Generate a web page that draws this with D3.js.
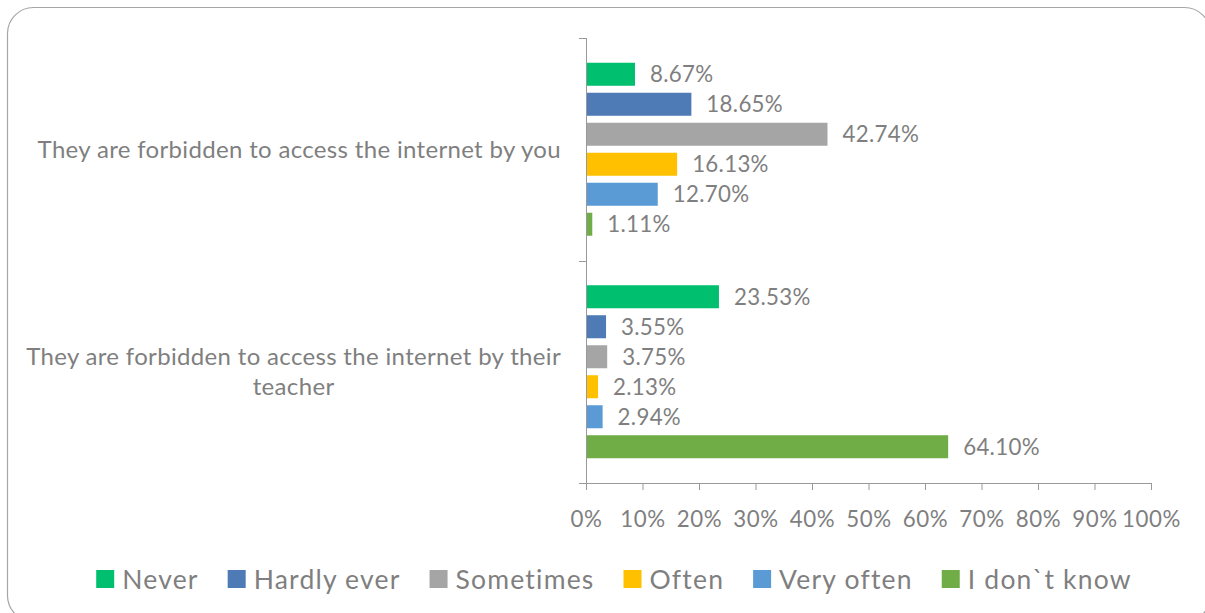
<!DOCTYPE html>
<html>
<head>
<meta charset="utf-8">
<script src="https://cdn.jsdelivr.net/npm/d3@7"></script>
<style>
  html, body { margin: 0; padding: 0; background: #fff; }
  svg { display: block; }
  text { font-family: Lato, "Open Sans", sans-serif; fill: #7f7f7f; }
</style>
</head>
<body>
<svg id="chart" width="1205" height="613"></svg>
<script>
// Survey categories (one band each) and the answer series drawn inside every band
const categories = [
  "They are forbidden to access the internet by you",
  "They are forbidden to access the internet by their teacher"
];
const seriesNames = ["Never", "Hardly ever", "Sometimes", "Often", "Very often", "I don`t know"];
const seriesColors = ["#00bf6f", "#4e7ab5", "#a5a5a5", "#ffc000", "#5b9bd5", "#70ad47"];

// Percentages per series, one value per category
const never      = [8.67, 23.53];
const hardlyEver = [18.65, 3.55];
const sometimes  = [42.74, 3.75];
const often      = [16.13, 2.13];
const veryOften  = [12.70, 2.94];
const dontKnow   = [1.11, 64.10];

const xTicks = [0, 10, 20, 30, 40, 50, 60, 70, 80, 90, 100];

const seriesValues = [never, hardlyEver, sometimes, often, veryOften, dontKnow];

const svg = d3.select("#chart");

// rounded frame around the chart
svg.append("rect")
  .attr("x", 7.5).attr("y", 7.5)
  .attr("width", 1203).attr("height", 614)
  .attr("rx", 26).attr("ry", 26)
  .attr("fill", "#fff")
  .attr("stroke", "#a6a6a6")
  .attr("stroke-width", 1.2);

const plot = { left: 586, right: 1151, top: 38, bottom: 483 };

const x = d3.scaleLinear().domain([0, 100]).range([plot.left, plot.right]);
const y0 = d3.scaleBand().domain(categories).range([plot.top, plot.bottom]).padding(0);
const y1 = d3.scaleBand().domain(seriesNames).range([0, y0.bandwidth()])
  .paddingInner(0.233).paddingOuter(0.825);
const color = d3.scaleOrdinal().domain(seriesNames).range(seriesColors);

const rows = [];
categories.forEach((c, ci) => {
  seriesNames.forEach((s, si) => {
    rows.push({ category: c, series: s, value: seriesValues[si][ci] });
  });
});

// bars
svg.append("g").selectAll("rect")
  .data(rows)
  .join("rect")
  .attr("x", x(0))
  .attr("y", d => y0(d.category) + y1(d.series))
  .attr("width", d => x(d.value) - x(0))
  .attr("height", y1.bandwidth())
  .attr("fill", d => color(d.series));

// value labels
svg.append("g").selectAll("text")
  .data(rows)
  .join("text")
  .attr("x", d => x(d.value) + 15)
  .attr("y", d => y0(d.category) + y1(d.series) + y1.bandwidth() / 2)
  .attr("dy", "0.36em")
  .style("font-size", "22.3px")
  .style("letter-spacing", "0.3px")
  .text(d => d.value.toFixed(2) + "%");

const axisColor = "#999";

// x axis
const xAxis = svg.append("g")
  .attr("transform", `translate(0,${plot.bottom})`)
  .call(d3.axisBottom(x).tickValues(xTicks).tickSize(7).tickPadding(21).tickFormat(d => d + "%"));
xAxis.select(".domain").attr("stroke", axisColor).attr("d", `M${plot.left},0.5H${plot.right}`);
xAxis.selectAll(".tick line").attr("stroke", axisColor);
xAxis.selectAll(".tick text")
  .style("font-size", "22.3px")
  .style("letter-spacing", "0.6px")
  .style("font-family", "Lato, sans-serif")
  .attr("fill", "#7f7f7f");

// y axis: line plus band boundary ticks
const yAxis = svg.append("g");
yAxis.append("line")
  .attr("x1", plot.left + 0.5).attr("x2", plot.left + 0.5)
  .attr("y1", plot.top).attr("y2", plot.bottom)
  .attr("stroke", axisColor);
const bounds = categories.map(c => y0(c)).concat([plot.bottom]);
yAxis.selectAll("line.tk")
  .data(bounds)
  .join("line")
  .attr("class", "tk")
  .attr("x1", plot.left - 7).attr("x2", plot.left)
  .attr("y1", d => Math.round(d) + 0.5).attr("y2", d => Math.round(d) + 0.5)
  .attr("stroke", axisColor);

// category labels, wrapped to the label area and right-aligned as a block
const labelRight = 561, labelMaxWidth = 550, lineHeight = 30;
const catFont = "24px", catSpacing = "0.33px";
const catG = svg.append("g");
categories.forEach(c => {
  const t = catG.append("text").style("font-size", catFont).style("letter-spacing", catSpacing);
  const probe = catG.append("text").style("font-size", catFont).style("letter-spacing", catSpacing);
  const words = c.split(" ");
  const lines = [];
  let line = [];
  words.forEach(w => {
    const test = line.concat([w]).join(" ");
    probe.text(test);
    if (probe.node().getComputedTextLength() > labelMaxWidth && line.length) {
      lines.push(line.join(" "));
      line = [w];
    } else {
      line.push(w);
    }
  });
  lines.push(line.join(" "));
  let maxW = 0;
  lines.forEach(l => { probe.text(l); maxW = Math.max(maxW, probe.node().getComputedTextLength()); });
  probe.remove();
  const cx = labelRight - maxW / 2;
  const cy = y0(c) + y0.bandwidth() / 2;
  const firstY = cy - (lines.length - 1) * lineHeight / 2;
  t.attr("text-anchor", "middle");
  lines.forEach((l, i) => {
    t.append("tspan")
      .attr("x", cx)
      .attr("y", firstY + i * lineHeight)
      .attr("dy", "0.36em")
      .text(l);
  });
});

// legend, centred below the axis
const legend = svg.append("g");
const items = legend.selectAll("g")
  .data(seriesNames)
  .join("g");
items.append("rect")
  .attr("width", 18).attr("height", 18)
  .attr("y", 570)
  .attr("fill", d => color(d));
items.append("text")
  .attr("x", 26)
  .attr("y", 579)
  .attr("dy", "0.36em")
  .style("font-size", "26.5px")
  .style("letter-spacing", "1.2px")
  .text(d => d);
let cursor = 0;
const offsets = [];
items.each(function () {
  const w = 26 + d3.select(this).select("text").node().getComputedTextLength();
  offsets.push(cursor);
  cursor += w + 29;
});
const totalW = cursor - 29;
const startX = 614 - totalW / 2;
items.attr("transform", (d, i) => `translate(${startX + offsets[i]},0)`);
</script>
</body>
</html>
